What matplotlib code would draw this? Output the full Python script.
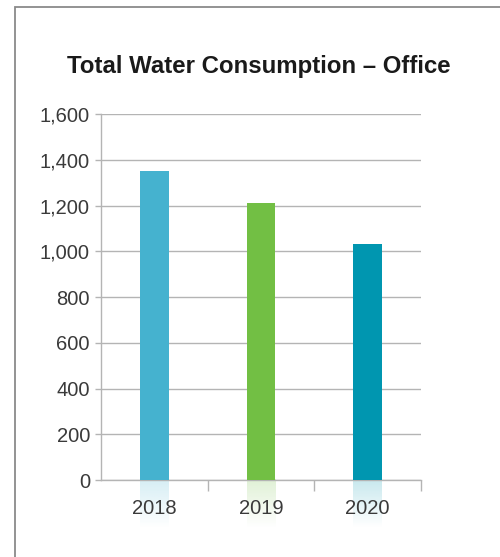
import numpy as np
import matplotlib.pyplot as plt
import matplotlib.patches as patches
from matplotlib.colors import to_rgb

years = ['2018', '2019', '2020']
consumption = [1350, 1210, 1030]
bar_colors = ['#45b2cf', '#72bf44', '#0096b0']
y_ticks = [0, 200, 400, 600, 800, 1000, 1200, 1400, 1600]

plt.rcParams['font.family'] = ['Liberation Sans', 'DejaVu Sans']

fig = plt.figure(figsize=(5, 5.57), dpi=100)
ax = fig.add_axes([0.202, 0.1382, 0.64, 0.6571])

# Outer frame (left and top edges visible)
frame = patches.Rectangle((15 / 500, -0.1), 1.2, 1 - 7 / 557 + 0.1,
                          transform=fig.transFigure, fill=False,
                          edgecolor='#8a8a8a', lw=1.3)
fig.add_artist(frame)

x = np.arange(len(years))
width = 0.27
ax.bar(x, consumption, width=width, color=bar_colors, zorder=3)

# Faded reflection under each bar
grad = np.linspace(0.22, 0.0, 100)
for xi, c in zip(x, bar_colors):
    rgba = np.zeros((100, 1, 4))
    rgba[..., :3] = to_rgb(c)
    rgba[:, 0, 3] = grad
    ax.imshow(rgba, extent=[xi - width / 2, xi + width / 2, -210, 0],
              aspect='auto', origin='upper', clip_on=False, zorder=1,
              interpolation='bilinear')

ax.set_xlim(-0.5, 2.5)
ax.set_ylim(0, 1600)
ax.set_yticks(y_ticks)
ax.set_yticklabels(['{:,}'.format(v) for v in y_ticks])
ax.yaxis.grid(True, color='#b4b4b4', lw=1, zorder=0)

ax.set_xticks(x)
ax.set_xticklabels(years)
ax.set_xticks([0.5, 1.5, 2.5], minor=True)
ax.tick_params(axis='x', which='major', length=0, pad=14,
               labelsize=14.5, labelcolor='#3a3a3a')
ax.tick_params(axis='x', which='minor', length=8, width=1, color='#b4b4b4')
ax.tick_params(axis='y', length=4, width=1, color='#b4b4b4', pad=4,
               labelsize=14.5, labelcolor='#3a3a3a')

for side in ['top', 'right']:
    ax.spines[side].set_visible(False)
for side in ['left', 'bottom']:
    ax.spines[side].set_color('#b4b4b4')
    ax.spines[side].set_linewidth(1)

fig.text(0.518, 1 - 66 / 557, 'Total Water Consumption \u2013 Office',
         ha='center', va='center', fontsize=17.3, fontweight='bold',
         color='#1a1a1a')

fig.savefig('out.png', dpi=100)
